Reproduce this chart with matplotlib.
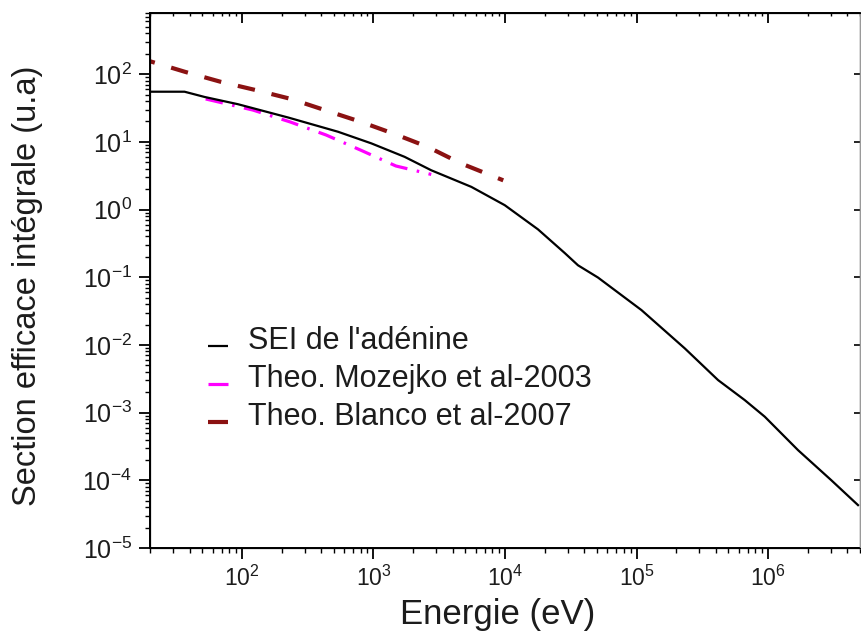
import matplotlib
matplotlib.use("Agg")
import matplotlib.pyplot as plt
from matplotlib.lines import Line2D
from matplotlib.legend_handler import HandlerLine2D
from matplotlib.ticker import LogLocator, NullFormatter, NullLocator

plt.rcParams['font.family'] = ['Liberation Sans', 'DejaVu Sans']
plt.rcParams['mathtext.fontset'] = 'custom'
plt.rcParams['mathtext.rm'] = 'Liberation Sans'
plt.rcParams['mathtext.it'] = 'Liberation Sans:italic'
plt.rcParams['mathtext.bf'] = 'Liberation Sans:bold'
plt.rcParams['axes.unicode_minus'] = False

# Integral cross section of adenine (this work)
energy_sei = [20, 36.6, 52, 93, 224, 537, 962, 1725, 2750, 5550, 9950, 17800,
              28500, 35900, 50900, 109000, 233000, 417000, 665000, 944000,
              1.69e6, 3.03e6, 4.83e6]
sigma_sei = [55, 55, 46, 36, 22.9, 14.1, 9.5, 6.0, 3.8, 2.16, 1.16, 0.51,
             0.227, 0.15, 0.099, 0.0327, 0.00887, 0.00302, 0.00153, 8.7e-4,
             2.79e-4, 1.0e-4, 4.3e-5]

# Theoretical values, Mozejko et al. 2003
energy_mozejko = [53, 121, 232, 437, 804, 1480, 2750]
sigma_mozejko = [43, 29.5, 19.7, 12.6, 7.5, 4.4, 3.3]

# Theoretical values, Blanco et al. 2007
energy_blanco = [20, 37, 69, 128, 236, 437, 804, 1455, 2590, 4630, 9700]
sigma_blanco = [155, 108, 77, 58, 43, 29, 19.7, 13, 8.4, 4.8, 2.7]

labels = ["SEI de l'adénine", "Theo. Mozejko et al-2003", "Theo. Blanco et al-2007"]
colors = ['black', '#ff00ff', '#8b1212']
widths = [1.6, 2.3, 3.0]

x_limits = (20, 5e6)
y_limits = (1e-5, 800)
text_color = '#1c1c1c'


class BaselineLineHandler(HandlerLine2D):
    """Legend key drawn near the text baseline instead of its middle."""

    def create_artists(self, legend, orig_handle, xdescent, ydescent, width,
                       height, fontsize, trans):
        return super().create_artists(legend, orig_handle, xdescent,
                                      ydescent + 0.5 * fontsize, width, height,
                                      fontsize, trans)


fig = plt.figure(figsize=(8.62, 6.38), dpi=100)
ax = fig.add_axes([150 / 862, 90 / 638, 710 / 862, 535 / 638])

ax.plot(energy_sei, sigma_sei, color=colors[0], lw=widths[0], zorder=3)
ax.plot(energy_mozejko, sigma_mozejko, color=colors[1], lw=widths[1],
        linestyle=(0, (5.5, 3.0, 0.8, 3.0)), zorder=2)
ax.plot(energy_blanco, sigma_blanco, color=colors[2], lw=widths[2],
        linestyle=(3.0, (4.2, 4.1)), zorder=2)

ax.set_xscale('log')
ax.set_yscale('log')
ax.set_xlim(*x_limits)
ax.set_ylim(*y_limits)

ax.xaxis.set_major_locator(LogLocator(base=10, numticks=20))
ax.xaxis.set_minor_locator(LogLocator(base=10, subs=range(2, 10), numticks=100))
ax.yaxis.set_major_locator(LogLocator(base=10, numticks=20))
ax.yaxis.set_minor_locator(LogLocator(base=10, subs=range(2, 10), numticks=100))
ax.xaxis.set_minor_formatter(NullFormatter())
ax.yaxis.set_minor_formatter(NullFormatter())

ax.tick_params(axis='both', which='major', direction='out', length=8, width=1.3,
               colors='black', labelcolor=text_color)
ax.tick_params(axis='both', which='minor', direction='out', length=3.5, width=1.0)
ax.tick_params(axis='x', which='major', labelsize=16.5, pad=5)
ax.tick_params(axis='y', which='major', labelsize=18, pad=5)

for side in ('left', 'bottom', 'top'):
    ax.spines[side].set_linewidth(1.4)
ax.spines['right'].set_color('#9a9a9a')
ax.spines['right'].set_linewidth(1.0)

# Inward ticks on the top and right frame
ax_top = ax.twiny()
ax_top.set_xscale('log')
ax_top.set_xlim(*x_limits)
ax_top.xaxis.set_major_locator(LogLocator(base=10, numticks=20))
ax_top.xaxis.set_minor_locator(LogLocator(base=10, subs=range(2, 10), numticks=100))
ax_top.tick_params(axis='x', which='major', direction='in', length=7, width=1.3,
                   labeltop=False)
ax_top.tick_params(axis='x', which='minor', direction='in', length=2.5, width=1.0)
ax_top.xaxis.set_minor_formatter(NullFormatter())
ax_top.spines['right'].set_visible(False)

ax_right = ax.twinx()
ax_right.set_yscale('log')
ax_right.set_ylim(*y_limits)
ax_right.yaxis.set_major_locator(LogLocator(base=10, numticks=20))
ax_right.yaxis.set_minor_locator(NullLocator())
ax_right.tick_params(axis='y', which='major', direction='in', length=4, width=1.2,
                     labelright=False)
ax_right.spines['right'].set_color('#9a9a9a')
ax_right.spines['right'].set_linewidth(1.0)

ax.set_xlabel('Energie (eV)', fontsize=25, color=text_color)
ax.xaxis.set_label_coords(0.49, -0.093)
ax.set_ylabel('Section efficace intégrale (u.a)', fontsize=23.5, color=text_color,
              va='center')
ax.yaxis.set_label_coords(-0.172, 0.49)

# Legend keys are short solid strokes
keys = [Line2D([], [], color=c, lw=w, solid_capstyle='butt')
        for c, w in zip(colors, widths)]
leg = ax.legend(keys, labels, loc='upper left', bbox_to_anchor=(0.082, 0.415),
                frameon=False, fontsize=22, handlelength=0.65, handletextpad=0.65,
                labelspacing=0.26, borderpad=0, borderaxespad=0,
                handler_map={Line2D: BaselineLineHandler()})
for txt in leg.get_texts():
    txt.set_color(text_color)

fig.savefig('out.png', dpi=100, facecolor='white')
